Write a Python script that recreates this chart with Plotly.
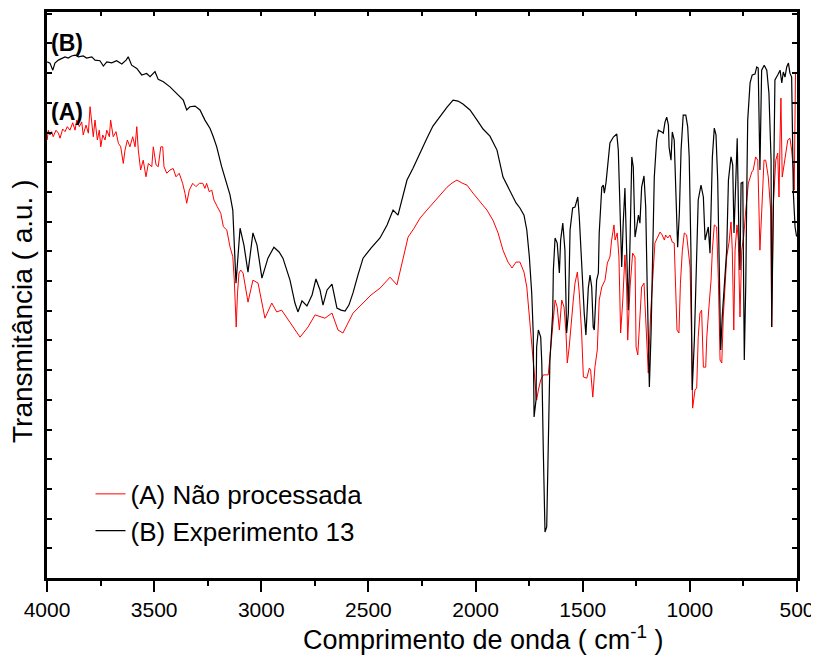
import plotly.graph_objects as go

# ---- data ----
X_TICKS = [4000, 3500, 3000, 2500, 2000, 1500, 1000, 500]
X_TICK_TEXT = ["4000", "3500", "3000", "2500", "2000", "1500", "1000", "500"]
X_TITLE = "Comprimento de onda ( cm<sup>-1</sup> )"
Y_TITLE = "Transmitância ( a.u. )"

# (B) Experimento 13 - black
black_wn = [3999,3986,3973,3963,3947,3931,3916,3901,3885,3869,
            3854,3831,3815,3791,3776,3753,3737,3721,3698,3675,
            3651,3631,3621,3605,3581,3558,3535,3519,3496,3481,
            3457,3426,3395,3364,3348,3333,3309,3286,3263,3239,
            3224,3208,3185,3161,3146,3133,3127,3118,3099,3081,
            3062,3039,3020,2997,2969,2941,2917,2899,2866,2843,
            2829,2810,2787,2763,2745,2726,2712,2693,2670,2647,
            2628,2609,2591,2572,2549,2525,2488,2446,2413,2385,
            2362,2339,2320,2292,2259,2227,2199,2166,2133,2105,
            2082,2059,2026,1993,1965,1933,1900,1872,1839,1811,
            1793,1774,1761,1749,1738,1731,1727,1718,1715,1707,
            1696,1691,1684,1676,1668,1661,1653,1640,1637,1629,
            1619,1609,1603,1593,1583,1575,1567,1559,1547,1536,
            1523,1516,1505,1493,1485,1474,1466,1458,1451,1446,
            1435,1427,1423,1411,1404,1399,1391,1381,1373,1357,
            1341,1334,1326,1318,1311,1303,1295,1287,1279,1271,
            1264,1256,1248,1240,1233,1225,1214,1206,1199,1189,
            1181,1173,1166,1155,1147,1131,1124,1116,1108,1100,
            1097,1088,1082,1073,1066,1057,1049,1041,1031,1019,
            1010,1003,995,989,979,968,961,948,937,929,
            914,906,895,886,878,870,863,856,849,839,
            828,820,808,800,794,786,779,771,766,761,
            753,746,739,733,730,719,709,696,688,681,
            673,665,653,641,631,621,618,611,603,590,
            579,571,564,556,548,540,533,525,517,509,
            502]
black_t = [17.38,17.34,17.10,17.34,17.44,17.51,17.55,17.51,17.58,17.61,
           17.55,17.58,17.51,17.55,17.44,17.42,17.24,17.38,17.35,17.42,
           17.31,17.44,17.55,17.27,17.16,16.94,16.99,16.88,17.05,16.79,
           16.71,16.54,16.32,16.09,15.76,15.87,15.89,15.76,15.42,15.14,
           14.86,14.52,13.85,13.29,12.90,12.39,11.48,9.93,11.78,11.21,
           10.30,11.62,11.21,10.10,10.77,11.14,10.98,10.77,10.03,9.26,
           8.96,9.33,9.16,9.53,10.07,9.70,9.19,9.70,9.90,9.09,
           9.02,8.99,9.19,9.60,10.20,10.77,11.11,11.45,11.89,12.39,
           12.22,12.90,13.40,13.80,14.34,14.81,15.22,15.56,15.86,16.09,
           16.06,15.96,15.76,15.42,15.12,14.88,14.41,13.50,13.00,12.63,
           12.46,12.22,11.72,10.81,9.60,8.25,5.42,5.99,7.78,8.35,
           8.11,7.24,4.31,1.55,1.72,4.31,7.34,8.92,10.37,11.45,
           11.28,10.27,11.38,11.95,11.04,8.25,8.92,11.72,12.46,12.49,
           12.83,12.15,10.47,8.92,8.18,9.76,10.20,9.80,8.45,8.35,
           10.03,10.27,11.62,13.16,13.23,12.96,13.33,14.01,14.65,14.85,
           14.95,14.41,12.15,10.47,11.95,13.13,11.04,9.02,11.38,14.18,
           13.84,11.48,11.82,12.22,11.95,13.16,13.54,12.49,9.80,6.43,
           8.25,11.28,13.50,14.75,15.08,15.02,14.98,15.35,15.52,15.25,
           14.51,14.07,15.02,14.75,13.06,11.14,12.29,14.41,15.59,15.59,
           15.19,14.18,11.04,6.33,8.01,11.28,12.73,13.23,12.83,11.38,
           11.82,10.94,14.18,15.15,14.92,13.40,11.04,7.68,8.79,9.93,
           11.04,13.40,14.18,13.91,11.62,13.30,14.81,11.48,10.37,13.30,
           13.33,7.34,9.93,13.84,15.42,16.67,16.94,16.97,17.21,17.17,
           13.74,17.10,17.27,17.10,16.33,14.07,8.45,12.15,16.77,16.94,
           17.10,16.67,17.04,16.87,17.21,17.34,17.00,16.87,12.96,11.82,
           11.50]

# (A) Nao processada - red
red_wn = [3999,3994,3986,3978,3971,3958,3947,3939,3927,3916,
          3905,3893,3880,3869,3861,3849,3838,3831,3818,3807,
          3799,3791,3784,3776,3765,3756,3749,3740,3729,3721,
          3709,3703,3691,3678,3667,3656,3644,3636,3625,3613,
          3600,3589,3581,3574,3563,3551,3538,3527,3511,3504,
          3491,3481,3469,3460,3454,3441,3426,3411,3398,3383,
          3367,3356,3348,3336,3320,3305,3289,3273,3263,3255,
          3243,3231,3221,3205,3189,3177,3161,3146,3133,3126,
          3117,3111,3104,3096,3085,3062,3039,3015,2983,2951,
          2928,2905,2866,2819,2782,2749,2703,2670,2642,2619,
          2572,2525,2488,2446,2399,2367,2339,2315,2287,2259,
          2227,2199,2166,2133,2110,2087,2063,2040,2012,1979,
          1947,1919,1895,1872,1849,1830,1811,1793,1774,1761,
          1749,1738,1727,1715,1707,1696,1684,1661,1653,1642,
          1629,1619,1609,1598,1587,1578,1572,1563,1551,1544,
          1536,1525,1516,1505,1497,1481,1469,1463,1453,1443,
          1432,1423,1411,1396,1385,1373,1365,1354,1349,1339,
          1331,1323,1313,1303,1295,1290,1279,1267,1256,1251,
          1243,1236,1225,1214,1201,1194,1183,1173,1163,1150,
          1139,1129,1119,1113,1103,1093,1082,1073,1066,1060,
          1051,1044,1035,1026,1015,1007,999,991,987,976,
          968,961,953,945,937,926,921,911,901,895,
          886,875,867,859,851,844,836,828,817,808,
          802,795,789,780,774,766,758,749,739,727,
          718,711,704,693,683,673,665,654,646,634,
          623,618,611,599,590,584,579,575,569,561,
          553,543,533,525,517,513,507]
red_t = [14.75,15.08,14.92,15.03,14.86,15.08,14.98,14.81,15.12,15.03,
         15.20,15.08,15.33,15.08,15.42,15.20,15.36,14.92,15.25,14.98,
         15.87,15.20,14.86,15.42,14.75,15.08,14.52,14.92,14.75,15.08,
         14.86,15.42,14.86,15.03,14.64,14.52,13.96,14.41,14.75,14.52,
         14.86,14.52,15.20,14.41,13.74,14.07,13.51,13.96,13.85,14.52,
         13.91,13.85,14.52,14.52,13.85,13.63,13.74,13.79,13.51,13.63,
         13.29,12.95,12.62,13.06,13.29,13.18,13.29,13.29,13.12,13.29,
         13.01,13.06,12.73,12.50,12.28,11.83,11.72,11.15,10.82,10.03,
         8.45,9.60,10.27,10.37,10.27,9.29,10.03,9.93,8.75,9.26,
         8.96,9.02,8.59,8.11,8.45,8.86,8.75,8.92,8.35,8.25,
         8.92,9.26,9.53,9.76,10.13,9.87,10.77,11.48,11.78,12.12,
         12.39,12.63,12.90,13.16,13.30,13.40,13.30,13.23,12.96,12.66,
         12.39,12.05,11.62,11.04,10.64,10.44,10.64,10.64,10.30,9.80,
         8.79,7.68,6.77,5.99,6.33,6.67,6.84,6.84,7.44,8.25,
         9.36,9.12,8.35,9.36,9.12,8.25,7.24,7.78,8.92,9.36,
         9.93,10.30,9.60,8.25,6.77,6.73,7.07,7.00,6.09,7.10,
         7.68,9.36,9.80,10.03,10.61,10.81,11.38,11.89,11.38,11.62,
         10.81,8.25,9.36,10.88,9.80,8.01,9.80,10.94,10.81,7.78,
         7.51,8.35,9.80,9.93,8.01,6.90,8.92,10.03,11.28,11.48,
         11.65,11.55,11.38,11.55,11.45,11.55,11.31,11.28,9.93,8.35,
         8.25,9.93,11.04,11.62,11.55,11.04,10.47,7.68,5.72,6.33,
         6.40,8.11,8.92,9.02,7.10,7.10,8.11,9.12,10.03,11.04,
         11.89,11.82,10.03,7.34,7.24,8.79,9.93,10.81,11.31,11.99,
         11.04,8.35,11.04,11.89,11.38,8.79,11.04,11.48,12.39,13.30,
         13.50,13.67,13.74,14.18,14.07,11.04,12.29,14.07,14.07,13.50,
         12.39,8.45,12.49,14.07,14.31,12.83,14.85,16.16,13.50,13.84,
         14.18,14.75,14.81,14.41,13.74,13.06,17.04]

assert len(black_wn) == len(black_t), (len(black_wn), len(black_t))
assert len(red_wn) == len(red_t), (len(red_wn), len(red_t))

FONT = "Liberation Sans, Arial, sans-serif"

fig = go.Figure()
fig.add_trace(go.Scatter(x=red_wn, y=red_t, mode="lines",
                         line=dict(color="#ff0000", width=1),
                         name="(A) Não processada"))
fig.add_trace(go.Scatter(x=black_wn, y=black_t, mode="lines",
                         line=dict(color="#000000", width=1.2),
                         name="(B) Experimento 13"))
# empty trace so that the top (inner-tick) axis is drawn
fig.add_trace(go.Scatter(x=[None], y=[None], xaxis="x2", mode="lines",
                         showlegend=False, hoverinfo="skip"))

# the page body has an 8 px margin, so the figure is drawn 8 px in from the top-left
fig.update_layout(
    width=811, height=653,
    margin=dict(l=39, r=22, t=4, b=83),
    paper_bgcolor="white", plot_bgcolor="white",
    showlegend=True,
    legend=dict(x=0.058, y=0.19, xanchor="left", yanchor="top",
                font=dict(family=FONT, size=26, color="black"),
                bgcolor="rgba(0,0,0,0)", borderwidth=0),
    xaxis=dict(range=[4000, 500], tickmode="array", tickvals=X_TICKS, ticktext=X_TICK_TEXT,
               ticks="outside", ticklen=11, tickwidth=1.5, tickcolor="black",
               minor=dict(dtick=250, tick0=0, ticks="outside", ticklen=5,
                          tickwidth=1.5, tickcolor="black"),
               showline=True, linewidth=2.5, linecolor="black", mirror=True,
               showgrid=False, zeroline=False, automargin=False,
               ticklabelstandoff=0,
               tickfont=dict(family=FONT, size=21, color="black")),
    xaxis2=dict(overlaying="x", side="top", range=[4000, 500],
                tickmode="array", tickvals=list(range(4000, 499, -250)),
                ticks="inside", ticklen=4, tickwidth=1.5, tickcolor="black",
                showticklabels=False, showgrid=False, zeroline=False, showline=False,
                automargin=False),
    yaxis=dict(range=[0, 19.06], tickmode="linear", tick0=0, dtick=1,
               ticks="inside", ticklen=5, tickwidth=1.5, tickcolor="black",
               showticklabels=False, showline=True, linewidth=2.5, linecolor="black",
               mirror="ticks", showgrid=False, zeroline=False, automargin=False),
    annotations=[
        dict(text=X_TITLE, x=0.581, y=-0.106, xref="paper", yref="paper",
             showarrow=False, xanchor="center", yanchor="middle",
             font=dict(family=FONT, size=27, color="black")),
        dict(text=Y_TITLE, x=-0.032, y=0.47, xref="paper", yref="paper",
             showarrow=False, xanchor="center", yanchor="middle", textangle=-90,
             font=dict(family=FONT, size=28, color="black")),
        dict(text="<b>(B)</b>", x=0.0267, y=0.945, xref="paper", yref="paper",
             showarrow=False, xanchor="center", yanchor="middle",
             font=dict(family=FONT, size=23, color="black")),
        dict(text="<b>(A)</b>", x=0.0267, y=0.823, xref="paper", yref="paper",
             showarrow=False, xanchor="center", yanchor="middle",
             font=dict(family=FONT, size=23, color="black")),
    ],
)

fig.write_html("out.html")
